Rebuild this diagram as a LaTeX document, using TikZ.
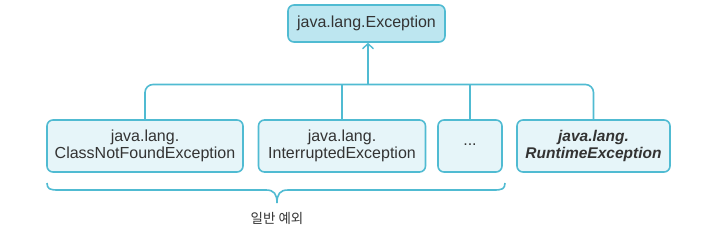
\documentclass[tikz,border=0pt]{standalone}
\usepackage{fontspec}
\setmainfont{Liberation Sans}
\newfontfamily\krfont{Noto Sans CJK KR}
\usetikzlibrary{arrows.meta}
\definecolor{lineC}{HTML}{50BBD2}
\definecolor{fillC}{HTML}{E6F5F9}
\definecolor{topFill}{HTML}{BDE6F0}
\definecolor{txtC}{HTML}{333333}
\tikzset{
  box/.style={draw=lineC, line width=1.6pt, rounded corners=6pt, fill=fillC, text=txtC,
    align=center, inner sep=0pt, font=\fontsize{16}{17.5}\selectfont},
  conn/.style={draw=lineC, line width=1.6pt},
}
\begin{document}
\begin{tikzpicture}[x=1pt,y=-1pt]
\useasboundingbox (0,0) rectangle (702,238);
\node[box, fill=topFill, minimum width=157pt, minimum height=37pt] (top) at (366.5,23.5) {java.lang.Exception};
\node[box, minimum width=196pt, minimum height=52pt] (b1) at (145,146) {java.lang.\\ClassNotFoundException};
\node[box, minimum width=167pt, minimum height=52pt] (b2) at (342,146) {java.lang.\\InterruptedException};
\node[box, minimum width=64pt, minimum height=52pt] (b3) at (470,146) {\raisebox{2pt}{...}};
\node[box, minimum width=153pt, minimum height=52pt, font=\fontsize{15.5}{17.5}\selectfont\bfseries\itshape] (b4) at (593.5,146) {java.lang.\\RuntimeException};
\coordinate (bus) at (368,84.5);
\draw[conn, -{Straight Barb[length=5pt,width=11pt,line width=1.4pt]}] (bus) -- (top.south -| bus);
\draw[conn, rounded corners=8pt] (b1.north) -- (b1.north |- bus) -- (b4.north |- bus) -- (b4.north);
\draw[conn] (b2.north) -- (b2.north |- bus);
\draw[conn] (b3.north) -- (b3.north |- bus);
\coordinate (tip) at (277,203);
\coordinate (bl) at (47,183);
\coordinate (br) at (505,183);
\draw[conn] (bl) .. controls (47,189) and (50,190) .. (58,190) -- (266,190)
  .. controls (274,190) and (277,194) .. (tip)
  .. controls (277,194) and (280,190) .. (288,190) -- (494,190)
  .. controls (502,190) and (505,189) .. (br);
\node[text=txtC, font=\krfont\fontsize{13.5}{16}\selectfont] (lbl) at (277,218) {일반 예외};
\end{tikzpicture}
\end{document}
